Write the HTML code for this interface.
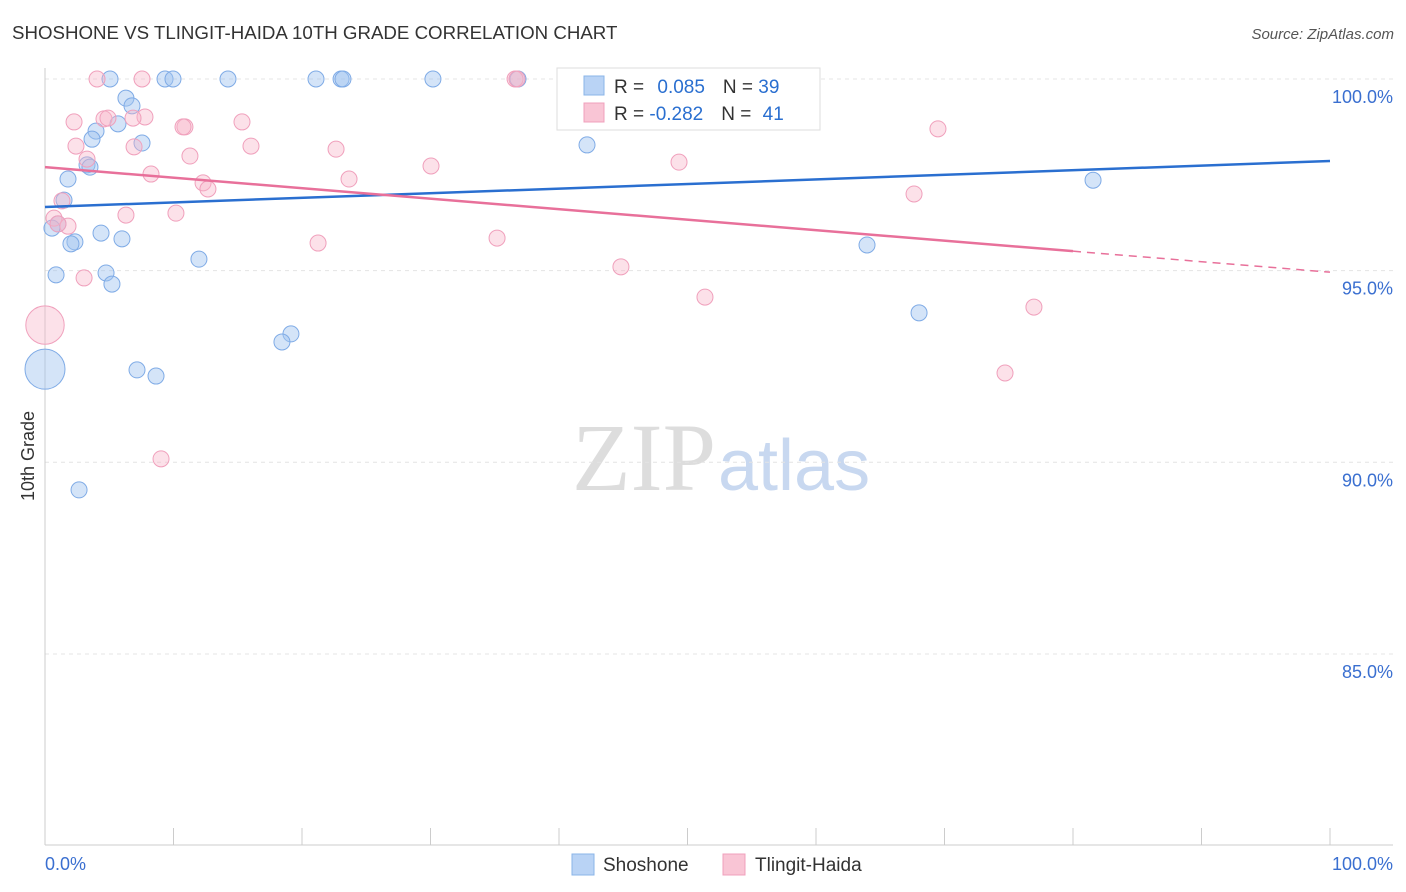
<!DOCTYPE html>
<html><head><meta charset="utf-8"><style>
body{margin:0;background:#fff;font-family:"Liberation Sans",sans-serif;}
#c{position:absolute;left:0;top:0;}
</style></head><body>
<svg id="c" width="1406" height="892" xmlns="http://www.w3.org/2000/svg">
<text x="12" y="39" font-size="18.7" fill="#333">SHOSHONE VS TLINGIT-HAIDA 10TH GRADE CORRELATION CHART</text>
<text x="1394" y="39" font-size="15" fill="#555" font-style="italic" text-anchor="end">Source: ZipAtlas.com</text>
<text x="716" y="490" font-size="96" fill="#ddd" text-anchor="end" font-family="Liberation Serif,serif">ZIP</text>
<text x="718" y="490" font-size="72" fill="#c8d8f0">atlas</text>
<text transform="translate(34,456) rotate(-90)" font-size="18" fill="#333" text-anchor="middle">10th Grade</text>
<g id="grid"></g><g id="axes"></g><g id="marks"></g>
<g>
<rect x="557" y="68" width="263" height="62" fill="#fff" stroke="#ddd"/>
<rect x="584" y="76" width="20" height="19" fill="#b9d3f5" stroke="#8ab4e8"/>
<rect x="584" y="103" width="20" height="19" fill="#f9c5d5" stroke="#f0a0bc"/>
<text x="614" y="93" font-size="19" fill="#333">R = <tspan fill="#2a6fd0" dx="8">0.085</tspan><tspan dx="18">N = </tspan><tspan fill="#2a6fd0">39</tspan></text>
<text x="614" y="120" font-size="19" fill="#333">R = <tspan fill="#2a6fd0">-0.282</tspan><tspan dx="18">N = </tspan><tspan fill="#2a6fd0" dx="6">41</tspan></text>
</g>
<g>
<rect x="572" y="854" width="22" height="21" fill="#b9d3f5" stroke="#8ab4e8"/>
<text x="603" y="871" font-size="19" fill="#333">Shoshone</text>
<rect x="723" y="854" width="22" height="21" fill="#f9c5d5" stroke="#f0a0bc"/>
<text x="755" y="871" font-size="19" fill="#333">Tlingit-Haida</text>
</g>
</svg>
<script>
const blueX=[5.06,9.34,9.96,14.24,21.09,23.04,23.19,30.19,36.81,6.30,6.77,3.97,5.68,3.66,7.55,42.18,3.27,3.50,1.79,81.56,1.48,1.01,0.54,4.36,5.99,2.33,2.02,63.97,11.98,0.86,4.75,5.21,68.02,19.14,18.44,0,7.16,8.64,2.65];
const blueY=[100,100,100,100,100,100,100,100,100,99.50,99.30,98.64,98.83,98.43,98.33,98.28,97.76,97.70,97.39,97.36,96.84,96.22,96.11,95.98,95.83,95.75,95.70,95.67,95.30,94.89,94.94,94.65,93.90,93.35,93.14,92.43,92.41,92.25,89.28];
const blueSize=[1,1,1,1,1,1,1,1,1,1,1,1,1,1,1,1,1,1,1,1,1,1,1,1,1,1,1,1,1,1,1,1,1,1,1,2.5,1,1,1];
const pinkX=[4.05,7.55,36.58,36.73,2.26,4.59,4.90,7.78,6.85,10.89,10.74,15.33,69.49,2.41,6.93,16.03,22.65,11.28,3.27,49.34,30.04,8.25,23.66,12.30,12.68,67.63,1.32,6.30,10.19,0.70,1.79,1.01,35.18,21.25,44.82,3.04,51.36,76.96,0,74.71,9.03];
const pinkY=[100,100,100,100,98.88,98.96,98.98,99.01,98.98,98.75,98.75,98.88,98.70,98.25,98.23,98.25,98.17,97.99,97.91,97.83,97.73,97.52,97.39,97.29,97.13,97.00,96.82,96.45,96.50,96.37,96.16,96.22,95.85,95.72,95.10,94.81,94.31,94.05,93.58,92.33,90.09];
const pinkSize=[1,1,1,1,1,1,1,1,1,1,1,1,1,1,1,1,1,1,1,1,1,1,1,1,1,1,1,1,1,1,1,1,1,1,1,1,1,1,2.4,1,1];
const blueTrend=[96.66,97.86];
const pinkTrend=[97.70,94.96];
const pinkSolidEnd=80;
const yTicks=[100,95,90,85];
const yTickLabels=["100.0%","95.0%","90.0%","85.0%"];
const xTickLabels=["0.0%","100.0%"];

const NS="http://www.w3.org/2000/svg";
const sx=v=>45+v*12.85, sy=v=>79+(100-v)*38.33;
function mk(tag,attrs,parent){const e=document.createElementNS(NS,tag);for(const k in attrs)e.setAttribute(k,attrs[k]);document.getElementById(parent).appendChild(e);return e;}
yTicks.forEach((t,i)=>{
  const g=mk('line',{x1:45,x2:1393,y1:sy(t),y2:sy(t),stroke:'#e4e4e4','stroke-dasharray':'4,4'},'grid');
  
  
  const l=mk('text',{x:1393,y:sy(t)+24,'font-size':18,fill:'#3a6fd0','text-anchor':'end'},'axes');
  l.textContent=yTickLabels[i];
  
  
});
const ax=mk('line',{x1:45,x2:45,y1:68,y2:845,stroke:'#ccc'},'axes');


const bx=mk('line',{x1:45,x2:1393,y1:845,y2:845,stroke:'#ccc'},'axes');


for(let i=0;i<=10;i++){const t=mk('line',{x1:sx(i*10),x2:sx(i*10),y1:828,y2:845,stroke:'#ccc'},'axes');
  
  }
const x0=mk('text',{x:45,y:870,'font-size':18,fill:'#3a6fd0'},'axes');x0.textContent=xTickLabels[0];


const x1=mk('text',{x:1393,y:870,'font-size':18,fill:'#3a6fd0','text-anchor':'end'},'axes');x1.textContent=xTickLabels[1];



blueX.forEach((x,i)=>{const c=mk('circle',{cx:sx(x),cy:sy(blueY[i]),r:8*blueSize[i],fill:'rgba(160,196,240,0.45)',stroke:'#7fabe6','stroke-width':1},'marks');
  
  });
pinkX.forEach((x,i)=>{const c=mk('circle',{cx:sx(x),cy:sy(pinkY[i]),r:8*pinkSize[i],fill:'rgba(248,180,200,0.4)',stroke:'#f0a0bc','stroke-width':1},'marks');
  
  });
const bl=mk('line',{x1:sx(0),y1:sy(blueTrend[0]),x2:sx(100),y2:sy(blueTrend[1]),stroke:'#2a6fd0','stroke-width':2.5},'marks');


const pm=pinkTrend[0]+(pinkTrend[1]-pinkTrend[0])*pinkSolidEnd/100;
const pl=mk('line',{x1:sx(0),y1:sy(pinkTrend[0]),x2:sx(pinkSolidEnd),y2:sy(pm),stroke:'#e8709a','stroke-width':2.5},'marks');


const pd=mk('line',{x1:sx(pinkSolidEnd),y1:sy(pm),x2:sx(100),y2:sy(pinkTrend[1]),stroke:'#e8709a','stroke-width':1.5,'stroke-dasharray':'8,6'},'marks');


</script>
</body></html>
